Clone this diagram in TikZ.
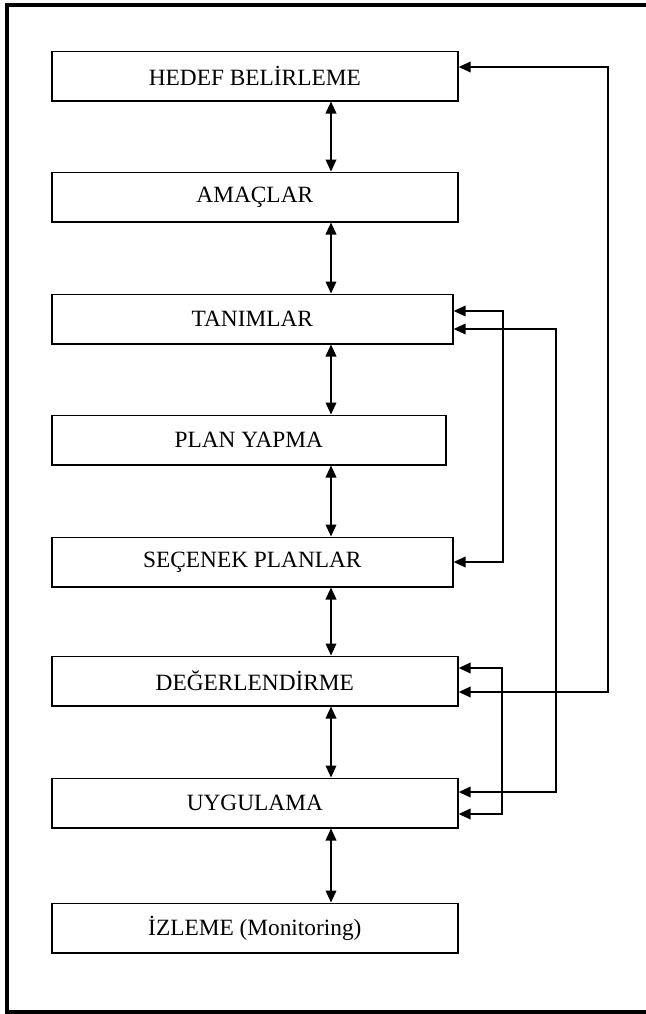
\documentclass[tikz,border=0pt]{standalone}
\usepackage{fontspec}
\setmainfont{Liberation Serif}
\usetikzlibrary{arrows.meta}
\begin{document}
\begin{tikzpicture}[x=0.75pt,y=-0.75pt,
    kutu/.style={draw,line width=1.25pt,anchor=west,minimum height=37pt,inner sep=0pt,font=\fontsize{17.5}{20}\selectfont},
    ok/.style={line width=1.2pt,{Triangle[length=9pt,width=8pt]}-{Triangle[length=9pt,width=8pt]}}]
  \useasboundingbox (0,0) rectangle (646,1014);
  \draw[line width=3.6pt] (646,5) -- (7,5) -- (7,1012) -- (646,1012);
  % kutular
  \foreach \ad/\y/\w/\yazi in {hedef/76/304.5/HEDEF BELİRLEME, amac/197/304.5/AMAÇLAR,
      tanim/319/300.75/TANIMLAR, plan/440/295.5/PLAN YAPMA, secenek/562/300.75/SEÇENEK PLANLAR,
      deger/681/304.5/DEĞERLENDİRME, uygula/803/304.5/UYGULAMA, izleme/928/304.5/İZLEME (Monitoring)}
    \node[kutu,minimum width=\w pt] (\ad) at (51,\y) {\yazi};
  % dikey oklar
  \coordinate (orta) at (331,0);
  \foreach \u/\v in {hedef/amac, amac/tanim, tanim/plan, plan/secenek, secenek/deger, deger/uygula, uygula/izleme}
    \draw[ok] (\u.south -| orta) -- (\v.north -| orta);
  % geri besleme
  \foreach \a/\b/\ha/\hb/\x in {hedef/deger/6.75/-8.25/608, tanim/secenek/6/0/503,
      tanim/uygula/-7.5/8.25/556, deger/uygula/9.75/-8.25/502}
  {
    \coordinate (p) at ([yshift=\ha pt]\a.east);
    \coordinate (q) at ([yshift=\hb pt]\b.east);
    \draw[ok] (p) -- (p -| \x,0) |- (q);
  }
\end{tikzpicture}
\end{document}
